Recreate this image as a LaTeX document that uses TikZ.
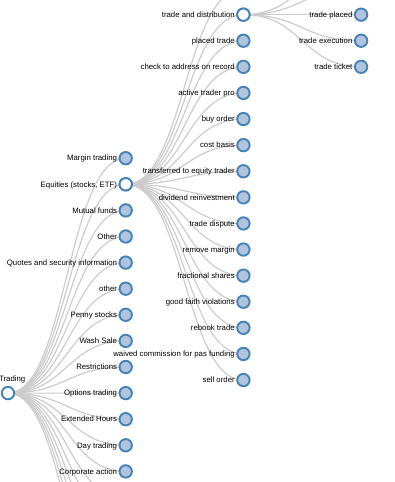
\documentclass[tikz,border=0pt]{standalone}
\usepackage{fontspec}
\setmainfont{Liberation Sans}
\usetikzlibrary{backgrounds}
\definecolor{steel}{HTML}{4682B4}
\definecolor{lsteel}{HTML}{B0C4DE}
\definecolor{edgec}{HTML}{CCCCCC}
\tikzset{
  tn/.style={circle, draw=steel, line width=1.9pt, minimum size=12.4pt, inner sep=0pt, fill=lsteel},
  opennode/.style={fill=white},
  lbl/.style={anchor=base east, inner sep=0pt, font=\fontsize{7.8}{9}\selectfont, text=black},
  link/.style={draw=edgec, line width=1.2pt},
}
\begin{document}
\begin{tikzpicture}[x=1pt,y=-1pt]
\useasboundingbox (0,0) rectangle (394,482);
\clip (0,0) rectangle (394,482);
% root
\node[tn,opennode] (root) at (8,393.1) {};
\node[lbl] (rootl) at (25.5,381.7) {Trading};
% level 1
\foreach \lab [count=\i from 0] in {Margin trading,{Equities (stocks, ETF)},Mutual funds,Other,Quotes and security information,other,Penny stocks,Wash Sale,Restrictions,Options trading,Extended Hours,Day trading,Corporate action}{
  \node[tn] (a\i) at (125.7,{158.2+26.1*\i}) {};
  \node[lbl] (a\i l) at (117.2,{160.9+26.1*\i}) {\lab};
}
\node[tn,opennode] at (a1) {};
\foreach \i in {13,...,18}{
  \coordinate (a\i) at (125.7,{158.2+26.1*\i});
}
% level 2 (children of Equities)
\coordinate (b0) at (243.4,-11.45);
\foreach \lab [count=\j from 1] in {trade and distribution,placed trade,check to address on record,active trader pro,buy order,cost basis,transferred to equity trader,dividend reinvestment,trade dispute,remove margin,fractional shares,good faith violations,rebook trade,waived commission for pas funding,sell order}{
  \node[tn] (b\j) at (243.4,{-11.45+26.1*\j}) {};
  \node[lbl] (b\j l) at (234.9,{-8.75+26.1*\j}) {\lab};
}
\node[tn,opennode] at (b1) {};
% level 3 (children of trade and distribution)
\coordinate (c0) at (361.1,-37.55);
\coordinate (c1) at (361.1,-11.45);
\foreach \lab [count=\k from 2] in {trade placed,trade execution,trade ticket}{
  \node[tn] (c\k) at (361.1,{-37.55+26.1*\k}) {};
  \node[lbl] (c\k l) at (352.6,{-34.85+26.1*\k}) {\lab};
}
% links
\begin{scope}[on background layer]
  \foreach \i in {0,...,18}{
    \draw[link] (root.center) .. controls +(58.85,0) and +(-58.85,0) .. (a\i.center);
  }
  \foreach \j in {0,...,15}{
    \draw[link] (a1.center) .. controls +(58.85,0) and +(-58.85,0) .. (b\j.center);
  }
  \foreach \k in {0,...,4}{
    \draw[link] (b1.center) .. controls +(58.85,0) and +(-58.85,0) .. (c\k.center);
  }
\end{scope}
\end{tikzpicture}
\end{document}
